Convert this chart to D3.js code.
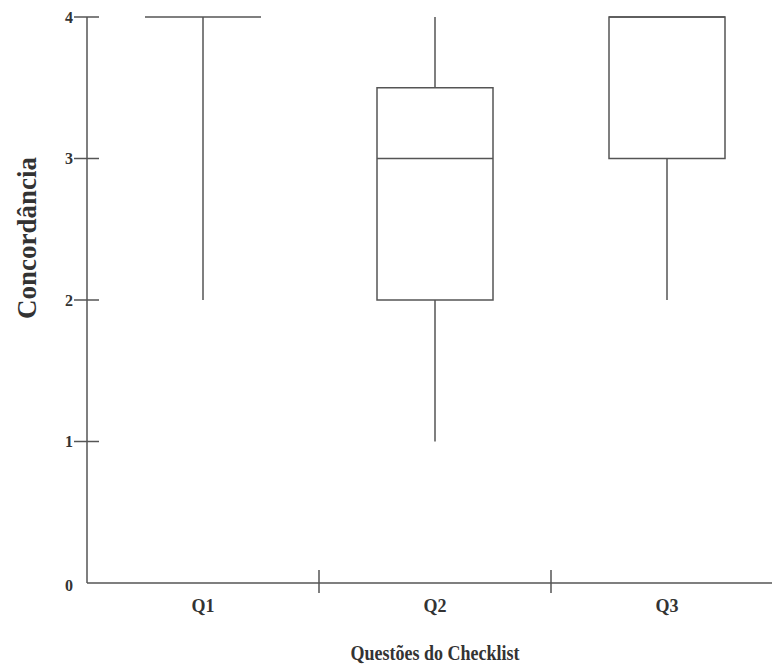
<!DOCTYPE html>
<html>
<head>
<meta charset="utf-8">
<script src="https://cdn.jsdelivr.net/npm/d3@7"></script>
<style>
html,body{margin:0;padding:0;background:#fff;}
svg{display:block;}
</style>
</head>
<body>
<svg id="chart" width="772" height="666"></svg>
<script>
const categories = ["Q1", "Q2", "Q3"];
const mins    = [2, 1, 2];
const q1s     = [4, 2, 3];
const medians = [4, 3, 4];
const q3s     = [4, 3.5, 4];
const maxs    = [4, 4, 4];
const yTicks  = [0, 1, 2, 3, 4];
const yTitle = "Concordância";
const xTitle = "Questões do Checklist";

const data = categories.map((c, i) => ({cat: c, min: mins[i], q1: q1s[i], med: medians[i], q3: q3s[i], max: maxs[i]}));

const svg = d3.select("#chart");
const mLeft = 87, mRight = 783, mTop = 17, mBottom = 583;
const lineColor = "#555";
const textColor = "#333";
const font = "'Liberation Serif','Times New Roman',serif";

const x = d3.scaleBand().domain(categories).range([mLeft, mRight]).padding(0);
const y = d3.scaleLinear().domain([0, 4]).range([mBottom, mTop]);

// Y axis
svg.append("line").attr("x1", mLeft).attr("x2", mLeft).attr("y1", y(4)).attr("y2", y(0))
  .attr("stroke", lineColor).attr("stroke-width", 1.5);
yTicks.forEach(t => {
  if (t > 0) {
    svg.append("line").attr("x1", mLeft - 13).attr("x2", mLeft + 12)
      .attr("y1", y(t)).attr("y2", y(t)).attr("stroke", lineColor).attr("stroke-width", 1.5);
  }
  svg.append("text").attr("x", mLeft - 14).attr("y", y(t) + (t === 0 ? 2 : 0))
    .attr("text-anchor", "end").attr("dominant-baseline", "central")
    .attr("font-family", font).attr("font-weight", "bold").attr("font-size", 16)
    .attr("fill", textColor).text(t);
});

// X axis
svg.append("line").attr("x1", mLeft).attr("x2", mRight).attr("y1", mBottom).attr("y2", mBottom)
  .attr("stroke", lineColor).attr("stroke-width", 1.5);
categories.slice(1).forEach(c => {
  svg.append("line").attr("x1", x(c)).attr("x2", x(c)).attr("y1", mBottom - 13).attr("y2", mBottom + 10)
    .attr("stroke", lineColor).attr("stroke-width", 1.5);
});
categories.forEach(c => {
  svg.append("text").attr("x", x(c) + x.bandwidth() / 2).attr("y", mBottom + 23)
    .attr("text-anchor", "middle").attr("dominant-baseline", "central")
    .attr("font-family", font).attr("font-weight", "bold").attr("font-size", 18)
    .attr("fill", textColor).text(c);
});

// Titles
svg.append("text")
  .attr("transform", `translate(${x("Q2") + x.bandwidth() / 2},652) scale(1,1.2)`)
  .attr("text-anchor", "middle").attr("dominant-baseline", "central")
  .attr("font-family", font).attr("font-weight", "bold").attr("font-size", 18)
  .attr("fill", textColor).text(xTitle);
svg.append("text").attr("transform", "translate(27,238) rotate(-90)")
  .attr("text-anchor", "middle").attr("dominant-baseline", "central")
  .attr("font-family", font).attr("font-weight", "bold").attr("font-size", 27)
  .attr("fill", textColor).text(yTitle);

// Boxes
const bw = x.bandwidth() * 0.5;
const g = svg.selectAll("g.box").data(data).enter().append("g").attr("class", "box");
g.each(function(d) {
  const sel = d3.select(this);
  const cx = x(d.cat) + x.bandwidth() / 2;
  if (d.max > d.q3) sel.append("line").attr("x1", cx).attr("x2", cx).attr("y1", y(d.max)).attr("y2", y(d.q3))
    .attr("stroke", lineColor).attr("stroke-width", 1.5);
  if (d.min < d.q1) sel.append("line").attr("x1", cx).attr("x2", cx).attr("y1", y(d.q1)).attr("y2", y(d.min))
    .attr("stroke", lineColor).attr("stroke-width", 1.5);
  sel.append("rect").attr("x", cx - bw / 2).attr("y", y(d.q3)).attr("width", bw)
    .attr("height", y(d.q1) - y(d.q3)).attr("fill", "none")
    .attr("stroke", lineColor).attr("stroke-width", 1.5);
  sel.append("line").attr("x1", cx - bw / 2).attr("x2", cx + bw / 2).attr("y1", y(d.med)).attr("y2", y(d.med))
    .attr("stroke", lineColor).attr("stroke-width", 1.5);
});
</script>
</body>
</html>
